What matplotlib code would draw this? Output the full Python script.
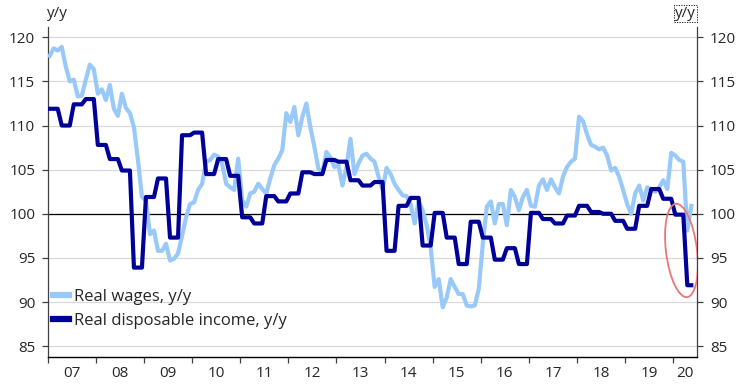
import numpy as np
import matplotlib.pyplot as plt
from matplotlib.patches import Ellipse
from matplotlib.transforms import ScaledTranslation

plt.rcParams["font.family"] = ["Open Sans", "DejaVu Sans"]

# monthly data, Jan 2007 .. May 2020
start_year = 2007
year_labels = ["07", "08", "09", "10", "11", "12", "13",
               "14", "15", "16", "17", "18", "19", "20"]

real_wages = [
    117.9, 118.75, 118.5, 118.9, 116.7, 115.0, 115.2, 113.3, 113.4, 115.2, 116.9, 116.4,
    113.6, 114.1, 112.9, 114.6, 111.9, 111.1, 113.6, 112.0, 111.4, 109.8, 106.1, 101.9,
    101.5, 97.7, 98.1, 95.8, 95.8, 96.6, 94.7, 94.9, 95.5, 97.5, 99.6, 101.1,
    101.3, 102.7, 103.4, 105.9, 106.1, 106.7, 106.5, 105.7, 103.4, 103.0, 102.7, 106.25,
    101.5, 100.8, 102.3, 102.5, 103.4, 102.8, 102.3, 104.0, 105.5, 106.25, 107.2, 111.4,
    110.4, 112.1, 108.9, 111.0, 112.5, 109.8, 107.6, 105.1, 104.7, 107.0, 106.4, 105.3,
    105.5, 103.2, 105.3, 108.5, 104.5, 105.7, 106.6, 106.8, 106.25, 105.9, 104.2, 102.7,
    105.2, 104.5, 103.4, 102.7, 102.1, 102.0, 101.1, 98.9, 101.4, 100.4, 98.7, 96.2,
    91.7, 92.6, 89.4, 90.5, 92.6, 91.7, 90.9, 90.9, 89.6, 89.5, 89.6, 91.5,
    96.6, 100.8, 101.4, 98.9, 101.1, 101.1, 98.7, 102.7, 101.9, 100.4, 101.9, 102.7,
    100.9, 100.8, 103.2, 103.9, 102.7, 103.9, 103.0, 102.3, 104.2, 105.3, 105.9, 106.25,
    111.0, 110.5, 109.0, 107.8, 107.6, 107.3, 107.5, 106.6, 104.9, 105.2, 104.2, 102.7,
    101.1, 100.0, 102.3, 103.2, 101.5, 103.0, 102.8, 102.5, 103.0, 103.8, 102.8, 106.9,
    106.6, 106.1, 105.9, 98.1, 100.9,
]

# quarterly values, Q1 2007 .. Q2 2020 (shown monthly)
disposable_income_q = [
    111.9, 110.0, 112.4, 113.0,
    107.8, 106.2, 104.9, 93.9,
    101.9, 104.0, 97.3, 108.9,
    109.2, 104.5, 106.2, 104.3,
    99.6, 98.9, 102.0, 101.4,
    102.3, 104.7, 104.5, 106.1,
    105.9, 103.8, 103.2, 103.6,
    95.8, 100.9, 101.8, 96.4,
    100.1, 97.3, 94.3, 99.1,
    97.3, 94.8, 96.1, 94.3,
    100.1, 99.4, 98.9, 99.8,
    100.9, 100.2, 100.0, 99.2,
    98.3, 100.9, 102.8, 101.7,
    99.9, 91.9,
]

n = len(real_wages)
disposable_income = np.repeat(disposable_income_q, 3)[:n]
x = start_year + (np.arange(n) + 0.5) / 12

light = "#99c9f8"
dark = "#000099"

fig = plt.figure(figsize=(7.42, 3.91), dpi=100)
ax = fig.add_axes([0.0643, 0.0877, 0.8755, 0.844])

ax.plot(x, real_wages, color=light, lw=3, label="Real wages, y/y", zorder=3)
ax.plot(x, disposable_income, color=dark, lw=3,
        label="Real disposable income, y/y", zorder=4)
ax.axhline(100, color="black", lw=0.9, zorder=2)

ax.set_xlim(2007, 2020.5)
ax.set_ylim(83.8, 121.2)

yticks = np.arange(85, 121, 5)
ax.set_yticks(yticks)
ax.yaxis.grid(True, color="#d9d9d9", lw=0.9)
ax.set_axisbelow(True)

ax.set_xticks(np.arange(2007, 2021))
ax.set_xticklabels([])
label_pos = [y + 0.5 for y in range(2007, 2020)] + [2020.25]
ax.set_xticks(label_pos, minor=True)
ax.set_xticklabels(year_labels, minor=True)
ax.tick_params(axis="x", which="major", direction="out", length=4,
               color="#404040", width=0.9)
ax.tick_params(axis="x", which="minor", length=0, pad=7, labelsize=11,
               colors="#262626")
ax.tick_params(axis="y", direction="out", length=4, width=0.9,
               color="#404040", labelsize=11, labelcolor="#262626",
               left=True, right=True, labelleft=True, labelright=True, pad=5)

ax.spines["top"].set_visible(False)
for side in ("left", "right"):
    ax.spines[side].set_color("#404040")
    ax.spines[side].set_linewidth(0.9)
ax.spines["bottom"].set_color("black")
ax.spines["bottom"].set_linewidth(1.0)

leg = ax.legend(loc="upper left", bbox_to_anchor=(0.0077, 0.205), frameon=False,
                fontsize=12, handlelength=0.95, handletextpad=0.3,
                labelspacing=0.45, borderpad=0, borderaxespad=0)
for h in leg.get_lines():
    h.set_linewidth(4.5)
for t in leg.get_texts():
    t.set_color("#262626")

# red ring round the latest drop
ring_tf = fig.dpi_scale_trans + ScaledTranslation(2020.17, 95.84, ax.transData)
ax.add_patch(Ellipse((0, 0), 0.31, 0.94, angle=7, transform=ring_tf,
                     fill=False, ec="#e8777a", lw=1.3, zorder=5))

fig.text(47 / 742, 1 - 17 / 391, "y/y", ha="left", va="baseline",
         fontsize=11, color="#262626")
fig.text(696 / 742, 1 - 17 / 391, "y/y", ha="right", va="baseline",
         fontsize=11, color="#262626",
         bbox=dict(boxstyle="square,pad=0.08", fc="white", ec="black",
                   lw=0.6, ls=(0, (1.5, 1.5))))

fig.savefig("out.png", dpi=100)
